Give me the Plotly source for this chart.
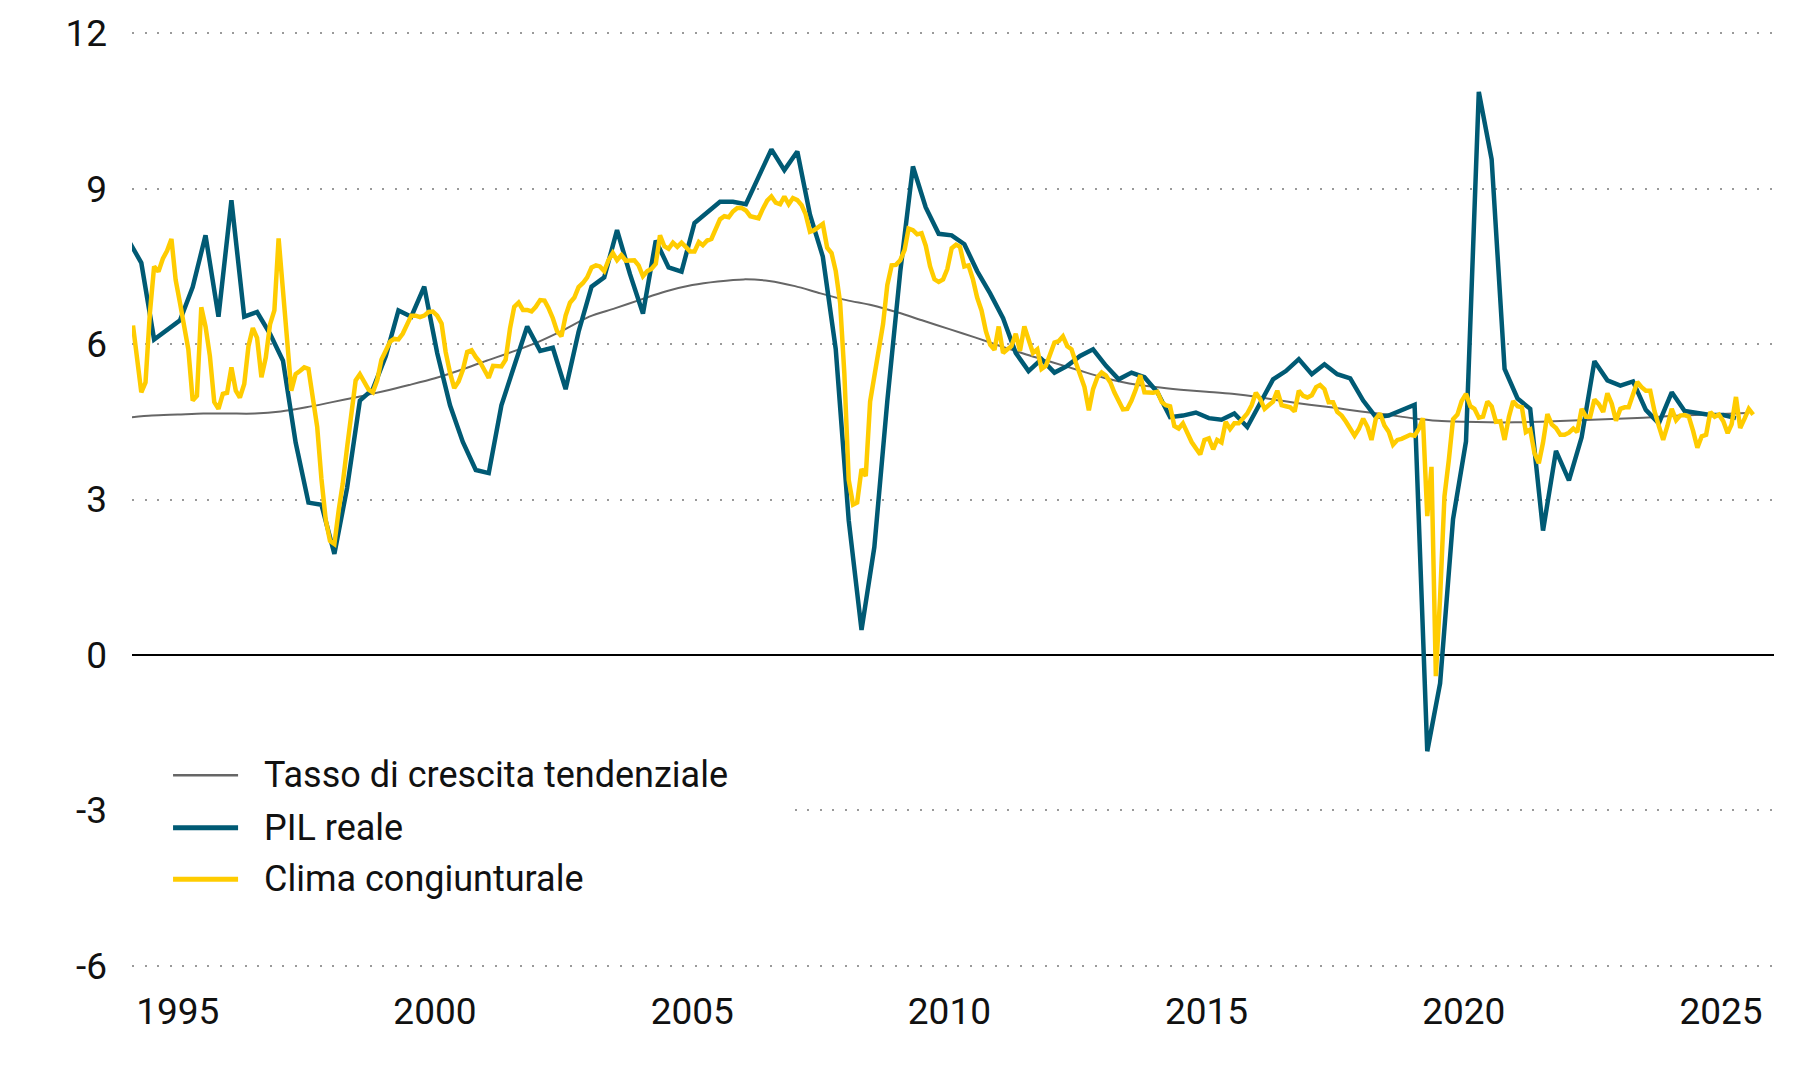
import pandas as pd
import plotly.graph_objects as go

# ---------------- data ----------------
SERIES_NAMES = ["Tasso di crescita tendenziale", "PIL reale", "Clima congiunturale"]

# quarterly real GDP growth, first observation mid-January 1994
PIL_START = "1994-01-17"
PIL_REALE = [
    8.0, 7.57, 6.09, 6.28, 6.46, 7.1, 8.10, 6.53, 8.78, 6.53,
    6.62, 6.2, 5.68, 4.1, 2.94, 2.90, 1.95, 3.22, 4.91, 5.13,
    5.77, 6.65, 6.53, 7.11, 5.83, 4.82, 4.11, 3.57, 3.51, 4.82,
    5.58, 6.34, 5.87, 5.93, 5.13, 6.24, 7.11, 7.29, 8.20, 7.35,
    6.59, 8.0, 7.48, 7.40, 8.34, 8.54, 8.75, 8.75, 8.70, 9.23,
    9.76, 9.36, 9.72, 8.5, 7.69, 5.9, 2.6, 0.48, 2.08, 4.9,
    7.4, 9.43, 8.64, 8.13, 8.10, 7.93, 7.41, 6.98, 6.50, 5.83,
    5.48, 5.71, 5.45, 5.58, 5.77, 5.90, 5.58, 5.32, 5.45, 5.36,
    5.07, 4.59, 4.62, 4.68, 4.57, 4.54, 4.66, 4.40, 4.88, 5.32,
    5.48, 5.71, 5.42, 5.61, 5.42, 5.34, 4.91, 4.59, 4.62, 4.72,
    4.83, -1.86, -0.55, 2.62, 4.12, 10.87, 9.57, 5.52, 4.95, 4.75,
    2.40, 3.94, 3.37, 4.20, 5.67, 5.30, 5.20, 5.28, 4.73, 4.47,
    5.07, 4.71, 4.67, 4.63, 4.63, 4.57,
]

# monthly business-climate indicator, first observation mid-February 1994
CLIMA_START = "1994-02-17"
CLIMA_CONGIUNTURALE = [
    6.36, 5.7, 5.07, 5.26, 6.6, 7.5, 7.4, 7.65, 7.8, 8.03,
    7.24, 6.79, 6.28, 5.9, 4.91, 5.0, 6.71, 6.34, 5.77, 4.88,
    4.75, 5.04, 5.06, 5.55, 5.10, 4.97, 5.23, 5.96, 6.31, 6.12,
    5.36, 5.74, 6.38, 6.65, 8.04, 6.92, 6.03, 5.10, 5.42, 5.48,
    5.55, 5.52, 4.88, 4.4, 3.4, 2.6, 2.2, 2.14, 2.8, 3.3,
    4.0, 4.7, 5.3, 5.42, 5.25, 5.12, 5.07, 5.3, 5.7, 5.9,
    6.05, 6.1, 6.09, 6.2, 6.4, 6.55, 6.55, 6.52, 6.55, 6.62,
    6.63, 6.55, 6.4, 5.85, 5.45, 5.15, 5.28, 5.5, 5.85, 5.88,
    5.75, 5.65, 5.5, 5.35, 5.58, 5.58, 5.57, 5.7, 6.3, 6.72,
    6.8, 6.66, 6.66, 6.63, 6.72, 6.85, 6.84, 6.7, 6.5, 6.25,
    6.15, 6.55, 6.8, 6.9, 7.1, 7.18, 7.29, 7.48, 7.52, 7.5,
    7.41, 7.62, 7.76, 7.62, 7.72, 7.61, 7.62, 7.62, 7.52, 7.31,
    7.41, 7.45, 7.55, 8.10, 7.89, 7.84, 7.96, 7.88, 7.96, 7.86,
    7.79, 7.79, 7.97, 7.91, 8.0, 8.03, 8.23, 8.41, 8.47, 8.45,
    8.56, 8.63, 8.63, 8.58, 8.47, 8.45, 8.43, 8.61, 8.77, 8.85,
    8.73, 8.70, 8.85, 8.70, 8.82, 8.78, 8.68, 8.51, 8.17, 8.20,
    8.27, 8.32, 7.86, 7.76, 7.41, 6.80, 5.43, 3.38, 2.90, 2.94,
    3.59, 3.45, 4.89, 5.36, 5.91, 6.39, 7.14, 7.52, 7.53, 7.62,
    7.82, 8.23, 8.2, 8.12, 8.14, 7.9, 7.5, 7.25, 7.2, 7.25,
    7.45, 7.85, 7.92, 7.88, 7.5, 7.52, 7.25, 6.9, 6.65, 6.25,
    5.99, 5.89, 6.34, 5.83, 5.90, 5.96, 6.20, 5.87, 6.34, 6.06,
    5.83, 5.90, 5.52, 5.58, 5.83, 6.03, 6.06, 6.15, 5.96, 5.90,
    5.64, 5.39, 5.17, 4.72, 5.13, 5.36, 5.45, 5.39, 5.26, 5.07,
    4.88, 4.74, 4.75, 4.91, 5.13, 5.40, 5.07, 5.06, 5.06, 5.08,
    4.88, 4.82, 4.80, 4.42, 4.37, 4.47, 4.27, 4.11, 3.99, 3.87,
    4.15, 4.18, 3.97, 4.15, 4.10, 4.50, 4.36, 4.47, 4.47, 4.56,
    4.66, 4.82, 5.06, 4.94, 4.75, 4.82, 4.89, 5.10, 4.82, 4.80,
    4.78, 4.70, 5.10, 5.0, 4.97, 5.01, 5.17, 5.21, 5.13, 4.88,
    4.88, 4.69, 4.62, 4.50, 4.37, 4.23, 4.36, 4.56, 4.40, 4.15,
    4.56, 4.66, 4.43, 4.31, 4.06, 4.15, 4.17, 4.21, 4.25, 4.23,
    4.37, 4.57, 2.68, 3.63, -0.41, 1.1, 3.06, 3.76, 4.55, 4.64,
    4.9, 5.04, 4.8, 4.75, 4.58, 4.6, 4.89, 4.8, 4.5, 4.51,
    4.15, 4.6, 4.9, 4.8, 4.78, 4.3, 4.35, 3.9, 3.7, 4.1,
    4.65, 4.45, 4.38, 4.25, 4.25, 4.29, 4.37, 4.3, 4.75, 4.6,
    4.6, 4.93, 4.84, 4.69, 5.05, 4.85, 4.52, 4.75, 4.78, 4.78,
    5.04, 5.27, 5.17, 5.1, 5.1, 4.7, 4.42, 4.15, 4.42, 4.75,
    4.53, 4.62, 4.63, 4.6, 4.32, 4.0, 4.22, 4.25, 4.69, 4.6,
    4.64, 4.51, 4.28, 4.45, 4.98, 4.38, 4.56, 4.75, 4.64,
]

# semi-annual trend growth rate, from January 1994
TREND_START = "1994-01-01"
TASSO_TENDENZIALE = [
    4.58, 4.62, 4.64, 4.66, 4.66, 4.66, 4.70, 4.78, 4.88, 4.98,
    5.09, 5.21, 5.34, 5.50, 5.68, 5.85, 6.04, 6.27, 6.53, 6.69,
    6.86, 7.02, 7.14, 7.21, 7.25, 7.22, 7.12, 6.98, 6.85, 6.75,
    6.61, 6.45, 6.29, 6.13, 5.96, 5.80, 5.65, 5.50, 5.35, 5.24,
    5.17, 5.12, 5.08, 5.04, 4.98, 4.90, 4.83, 4.77, 4.70, 4.64,
    4.57, 4.52, 4.50, 4.49, 4.49, 4.50, 4.52, 4.54, 4.56, 4.58,
    4.61, 4.63, 4.65, 4.67,
]

X_TICK_YEARS = [1995, 2000, 2005, 2010, 2015, 2020, 2025]
Y_TICKS = [-6, -3, 0, 3, 6, 9, 12]
Y_TICK_LABELS = ["-6", "-3", "0", "3", "6", "9", "12"]

# ---------------- build ----------------
x_pil = pd.date_range(PIL_START, periods=len(PIL_REALE), freq=pd.DateOffset(months=3))
x_clima = pd.date_range(CLIMA_START, periods=len(CLIMA_CONGIUNTURALE), freq=pd.DateOffset(months=1))
x_trend = pd.date_range(TREND_START, periods=len(TASSO_TENDENZIALE), freq=pd.DateOffset(months=6))

COL_TREND = "#666666"
COL_PIL = "#005a74"
COL_CLIMA = "#ffcc00"
FONT = "Roboto, Inter, 'Open Sans', sans-serif"

fig = go.Figure()
fig.add_trace(go.Scatter(x=x_trend, y=TASSO_TENDENZIALE, mode="lines", name=SERIES_NAMES[0],
                         line=dict(color=COL_TREND, width=2, shape="spline", smoothing=0.8)))
fig.add_trace(go.Scatter(x=x_pil, y=PIL_REALE, mode="lines", name=SERIES_NAMES[1],
                         line=dict(color=COL_PIL, width=4.5, shape="linear")))
fig.add_trace(go.Scatter(x=x_clima, y=CLIMA_CONGIUNTURALE, mode="lines", name=SERIES_NAMES[2],
                         line=dict(color=COL_CLIMA, width=4.5, shape="linear")))

# hand-drawn legend (long line keys) over a white patch that hides the grid
shapes = [dict(type="rect", xref="paper", yref="y", x0=-0.002, x1=0.398, y0=-4.3, y1=-1.6,
               fillcolor="white", line=dict(width=0), layer="above")]
annotations = []
leg_y = [0.2106, 0.1555, 0.1014]
leg_cols = [COL_TREND, COL_PIL, COL_CLIMA]
leg_w = [2.5, 5, 5]
for name, yy, c, w in zip(SERIES_NAMES, leg_y, leg_cols, leg_w):
    shapes.append(dict(type="line", xref="paper", yref="paper", x0=0.025, x1=0.0646, y0=yy, y1=yy,
                       line=dict(color=c, width=w), layer="above"))
    annotations.append(dict(text=name, xref="paper", yref="paper", x=0.0792, y=yy,
                            xanchor="left", yanchor="middle", showarrow=False,
                            font=dict(family=FONT, size=36, color="#111111")))

fig.update_layout(
    width=1800, height=1080,
    margin=dict(l=132, r=26, t=15, b=104),
    paper_bgcolor="white", plot_bgcolor="white",
    showlegend=False,
    font=dict(family=FONT, size=37, color="#111111"),
    shapes=shapes, annotations=annotations,
    hovermode=False,
)
fig.update_xaxes(
    type="date",
    range=["1994-02-10", "2026-01-12"],
    tickmode="array",
    tickvals=[f"{y}-01-01" for y in X_TICK_YEARS],
    ticktext=[str(y) for y in X_TICK_YEARS],
    showgrid=False, zeroline=False, showline=False, ticks="",
    ticklabelstandoff=10,
    tickfont=dict(family=FONT, size=37, color="#111111"),
)
fig.update_yaxes(
    range=[-6.2, 12.2],
    tickmode="array", tickvals=Y_TICKS, ticktext=Y_TICK_LABELS,
    showgrid=True, gridcolor="#9a9a9a", gridwidth=2, griddash="2px,10.5px",
    zeroline=True, zerolinecolor="#000000", zerolinewidth=2,
    showline=False, ticks="",
    ticklabelstandoff=24,
    tickfont=dict(family=FONT, size=37, color="#111111"),
)

fig.write_html("out.html")
